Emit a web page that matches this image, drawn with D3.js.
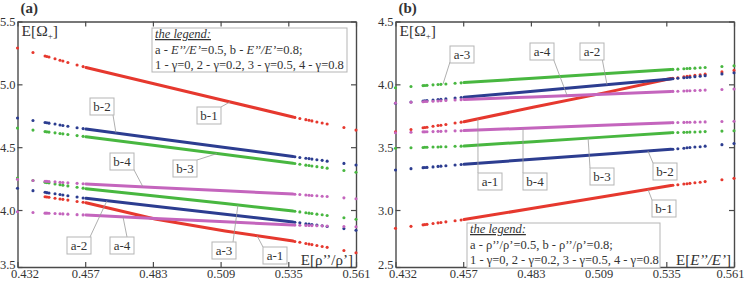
<!DOCTYPE html>
<html>
<head>
<meta charset="utf-8">
<script src="https://cdn.jsdelivr.net/npm/d3@7"></script>
<style>
  body { margin: 0; background: #fff; }
  svg text { font-family: "Liberation Serif", "DejaVu Serif", serif; fill: #333; }
</style>
</head>
<body>
<div id="chart"></div>
<script>
// ---- data ----
const xTickVals   = [0.432, 0.4578, 0.4836, 0.5094, 0.5352, 0.561];
const xTickLabels = ["0.432", "0.457", "0.483", "0.509", "0.535", "0.561"];

const yTickLabelsA = ["3.5", "4.0", "4.5", "5.0", "5.5"];
const yTickLabelsB = ["2.5", "3.0", "3.5", "4.0", "4.5"];

// x positions of the samples: sparse dots on the left, nodes of the dense band, sparse dots on the right
const xLeftDots  = [0.4320, 0.4379, 0.4425, 0.4432, 0.4440, 0.4463, 0.4482, 0.4493, 0.4512, 0.4547, 0.4570];
const xBandNodes = [0.4581, 0.4844, 0.5111, 0.5370];
const xRightDots = [0.5377, 0.5396, 0.5419, 0.5431, 0.5442, 0.5461, 0.5481, 0.5500, 0.5564, 0.5610];
const xAll = xLeftDots.concat(xBandNodes, xRightDots);

// panel (a)
const pa_b1 = [5.289,5.253,5.226,5.222,5.217,5.204,5.192,5.186,5.174,5.154,5.141, 5.134,5.003,4.870,4.740, 4.737,4.728,4.719,4.714,4.709,4.700,4.692,4.684,4.656,4.636];
const pa_b2 = [4.732,4.712,4.696,4.694,4.691,4.684,4.677,4.673,4.667,4.655,4.648, 4.644,4.571,4.498,4.426, 4.424,4.418,4.412,4.409,4.405,4.400,4.395,4.389,4.371,4.358];
const pa_b3 = [4.652,4.636,4.624,4.622,4.620,4.614,4.609,4.606,4.601,4.592,4.586, 4.583,4.513,4.441,4.372, 4.370,4.364,4.357,4.354,4.350,4.345,4.339,4.333,4.314,4.300];
const pa_b4 = [4.244,4.235,4.229,4.228,4.227,4.224,4.221,4.219,4.217,4.212,4.209, 4.207,4.180,4.153,4.127, 4.126,4.123,4.119,4.118,4.116,4.113,4.110,4.107,4.097,4.090];
const pa_a1 = [null,null,4.106,4.104,4.101,4.094,4.088,4.085,4.079,4.068,4.062, 4.058,3.928,3.833,3.753, 3.750,3.743,3.734,3.729,3.725,3.718,3.710,3.703,3.678,3.660];
const pa_a2 = [4.173,4.154,4.141,4.138,4.136,4.129,4.123,4.120,4.114,4.103,4.096, 4.093,4.030,3.967,3.905, 3.903,3.898,3.891,3.888,3.885,3.880,3.875,3.869,3.852,3.839];
const pa_a3 = [4.255,4.235,4.220,4.218,4.216,4.208,4.202,4.198,4.192,4.181,4.174, 4.170,4.111,4.051,3.992, 3.990,3.985,3.978,3.975,3.972,3.967,3.962,3.956,3.939,3.926];
const pa_a4 = [3.986,3.980,3.975,3.975,3.974,3.972,3.970,3.969,3.967,3.963,3.961, 3.960,3.933,3.906,3.880, 3.880,3.879,3.877,3.877,3.876,3.875,3.874,3.873,3.869,3.867];

// panel (b)
const pb_a1 = [3.622,3.641,3.654,3.657,3.659,3.666,3.672,3.675,3.681,3.692,3.699, 3.702,3.817,3.930,4.046, 4.048,4.053,4.059,4.063,4.066,4.071,4.076,4.081,4.099,4.111];
const pb_a2 = [3.849,3.860,3.868,3.870,3.871,3.875,3.879,3.881,3.884,3.891,3.895, 3.897,3.945,3.994,4.042, 4.044,4.048,4.052,4.055,4.057,4.061,4.065,4.069,4.083,4.092];
const pb_a3 = [3.973,3.983,3.990,3.991,3.992,3.996,3.999,4.000,4.003,4.009,4.012, 4.014,4.049,4.084,4.118, 4.119,4.121,4.124,4.126,4.127,4.129,4.132,4.134,4.142,4.148];
const pb_a4 = [3.851,3.857,3.862,3.863,3.864,3.866,3.868,3.870,3.872,3.875,3.878, 3.879,3.900,3.922,3.943, 3.944,3.945,3.947,3.948,3.949,3.951,3.952,3.954,3.959,3.963];
const pb_b1 = [2.854,2.870,2.882,2.884,2.886,2.893,2.898,2.901,2.906,2.915,2.921, 2.924,3.014,3.106,3.195, 3.197,3.201,3.207,3.209,3.212,3.217,3.221,3.226,3.241,3.252];
const pb_b2 = [3.318,3.329,3.337,3.338,3.339,3.343,3.347,3.349,3.352,3.358,3.362, 3.364,3.404,3.444,3.483, 3.484,3.488,3.492,3.495,3.497,3.501,3.504,3.508,3.520,3.529];
const pb_b3 = [3.491,3.495,3.498,3.499,3.499,3.501,3.502,3.503,3.504,3.507,3.508, 3.509,3.544,3.580,3.615, 3.616,3.617,3.618,3.619,3.620,3.621,3.622,3.624,3.628,3.631];
const pb_b4 = [3.615,3.619,3.622,3.622,3.623,3.624,3.626,3.626,3.628,3.630,3.631, 3.632,3.653,3.674,3.695, 3.695,3.696,3.697,3.698,3.698,3.699,3.700,3.701,3.704,3.706];

// callout labels: text, box corner (px), leader start (px), leader target (data)
const calloutsA = [
  { t: "b-2", bx: 90,  by: 98,  sx: 113, sy: 115, tx: 0.4695, tv: 4.615 },
  { t: "b-1", bx: 197, by: 107, sx: 221, sy: 107, tx: 0.5130, tv: 4.860 },
  { t: "b-3", bx: 173, by: 160, sx: 197, sy: 160, tx: 0.5080, tv: 4.449 },
  { t: "b-4", bx: 110, by: 153, sx: 133, sy: 168, tx: 0.4798, tv: 4.185 },
  { t: "a-2", bx: 67,  by: 237, sx: 90,  sy: 237, tx: 0.4661, tv: 4.074 },
  { t: "a-4", bx: 110, by: 237, sx: 127, sy: 237, tx: 0.4722, tv: 3.946 },
  { t: "a-3", bx: 212, by: 242, sx: 233, sy: 242, tx: 0.5160, tv: 4.039 },
  { t: "a-1", bx: 263, by: 247, sx: 263, sy: 247, tx: 0.5233, tv: 3.795 }
];
const calloutsB = [
  { t: "a-3", bx: 450, by: 46,  sx: 450, sy: 62,  tx: 0.4501, tv: 4.002 },
  { t: "a-4", bx: 530, by: 43,  sx: 553, sy: 58,  tx: 0.4974, tv: 3.911 },
  { t: "a-2", bx: 580, by: 43,  sx: 602, sy: 58,  tx: 0.5126, tv: 3.997 },
  { t: "a-1", bx: 478, by: 173, sx: 478, sy: 173, tx: 0.4634, tv: 3.725 },
  { t: "b-4", bx: 523, by: 173, sx: 523, sy: 173, tx: 0.4806, tv: 3.650 },
  { t: "b-3", bx: 590, by: 168, sx: 590, sy: 168, tx: 0.5054, tv: 3.572 },
  { t: "b-2", bx: 653, by: 163, sx: 653, sy: 163, tx: 0.5282, tv: 3.470 },
  { t: "b-1", bx: 652, by: 200, sx: 652, sy: 200, tx: 0.5282, tv: 3.165 }
];

const colors = { "1": "#e6382e", "2": "#2c3d90", "3": "#48b740", "4": "#c465bd" };

// ---- layout ----
const W = 746, H = 286;
const plotTop = 21.5, plotBottom = 267;
const serif = '"Liberation Serif", "DejaVu Serif", serif';

const svg = d3.select("#chart").append("svg")
  .attr("width", W)
  .attr("height", H);

const panels = [
  {
    tag: "(a)", left: 17.5, right: 356,
    yDomain: [3.5466, 5.5], yTicks: [3.5466, 4, 4.5, 5, 5.5], yLabels: yTickLabelsA,
    series: [["a-1", pa_a1], ["a-2", pa_a2], ["a-3", pa_a3], ["a-4", pa_a4],
             ["b-1", pa_b1], ["b-2", pa_b2], ["b-3", pa_b3], ["b-4", pa_b4]],
    callouts: calloutsA,
    legend: { x: 152, y: 28, w: 195, h: 44, sym: "E", italicSym: true },
    xTitle: "rho", lastLabelShift: 0
  },
  {
    tag: "(b)", left: 395.5, right: 734,
    yDomain: [2.5466, 4.5], yTicks: [2.5466, 3, 3.5, 4, 4.5], yLabels: yTickLabelsB,
    series: [["a-1", pb_a1], ["a-2", pb_a2], ["a-3", pb_a3], ["a-4", pb_a4],
             ["b-1", pb_b1], ["b-2", pb_b2], ["b-3", pb_b3], ["b-4", pb_b4]],
    callouts: calloutsB,
    legend: { x: 467, y: 223, w: 193, h: 45, sym: "ρ", italicSym: false },
    xTitle: "E", lastLabelShift: -4
  }
];

panels.forEach(drawPanel);

function drawPanel(p) {
  const x = d3.scaleLinear().domain([0.432, 0.561]).range([p.left, p.right]);
  const y = d3.scaleLinear().domain(p.yDomain).range([plotBottom, plotTop]);
  const g = svg.append("g");
  const axisColor = "#4a4a4a";

  // axes (ticks point inward)
  const top = g.append("g").attr("transform", `translate(0,${plotTop})`)
    .call(d3.axisTop(x).tickValues(xTickVals).tickSize(-5).tickSizeOuter(0).tickFormat(""));
  const bottom = g.append("g").attr("transform", `translate(0,${plotBottom})`)
    .call(d3.axisBottom(x).tickValues(xTickVals).tickSize(-5).tickSizeOuter(0).tickPadding(2.5)
      .tickFormat((d, i) => xTickLabels[i]));
  const left = g.append("g").attr("transform", `translate(${p.left},0)`)
    .call(d3.axisLeft(y).tickValues(p.yTicks).tickSize(-5).tickSizeOuter(0).tickPadding(2)
      .tickFormat((d, i) => p.yLabels[i]));
  const right = g.append("g").attr("transform", `translate(${p.right},0)`)
    .call(d3.axisRight(y).tickValues(p.yTicks).tickSize(-5).tickSizeOuter(0).tickFormat(""));

  [top, bottom, left, right].forEach(a => {
    a.attr("font-family", serif);
    a.select(".domain").attr("stroke", axisColor).attr("stroke-width", 1.4);
    a.selectAll(".tick line").attr("stroke", axisColor).attr("stroke-width", 1.2);
    a.selectAll(".tick text")
      .style("font-family", serif)
      .style("font-size", "12.5px")
      .attr("fill", "#333");
  });

  // corner labels nudged like the original: first x label right, last x label left, lowest y label up
  bottom.selectAll(".tick text")
    .attr("dx", (d, i) => i === 0 ? 7 : (i === xTickVals.length - 1 ? p.lastLabelShift : 0));
  left.selectAll(".tick text")
    .attr("dy", (d, i) => i === 0 ? "0.1em" : "0.32em");

  // series: dense band as a thick line, sparse samples as dots
  const band = d3.line().x(d => x(d.x)).y(d => y(d.v));
  p.series.forEach(([name, vals]) => {
    const col = colors[name.slice(-1)];
    const pts = xAll.map((xv, i) => ({ x: xv, v: vals[i], i: i })).filter(d => d.v != null);
    const nodes = pts.filter(d => d.i >= 11 && d.i < 15);
    const dots = pts.filter(d => d.i < 11 || d.i >= 15);

    g.append("path")
      .datum(nodes)
      .attr("d", band)
      .attr("fill", "none")
      .attr("stroke", col)
      .attr("stroke-width", 3)
      .attr("stroke-linecap", "round");

    g.append("g").selectAll("circle")
      .data(dots)
      .join("circle")
      .attr("cx", d => x(d.x))
      .attr("cy", d => y(d.v))
      .attr("r", 1.55)
      .attr("fill", col);
  });

  // callouts
  p.callouts.forEach(c => {
    g.append("line")
      .attr("x1", c.sx).attr("y1", c.sy)
      .attr("x2", x(c.tx)).attr("y2", y(c.tv))
      .attr("stroke", "#9a9a9a")
      .attr("stroke-width", 0.8);
    g.append("rect")
      .attr("x", c.bx).attr("y", c.by)
      .attr("width", 24).attr("height", 17)
      .attr("fill", "#fff")
      .attr("stroke", "#b5b5b5")
      .attr("stroke-width", 1);
    g.append("text")
      .attr("x", c.bx + 12).attr("y", c.by + 13)
      .attr("text-anchor", "middle")
      .style("font-size", "13px")
      .text(c.t);
  });

  // legend box
  const L = p.legend;
  g.append("rect")
    .attr("x", L.x).attr("y", L.y).attr("width", L.w).attr("height", L.h)
    .attr("fill", "#fff").attr("stroke", "#b5b5b5").attr("stroke-width", 1);

  const lx = L.x + 3;
  g.append("text")
    .attr("x", lx).attr("y", L.y + 10)
    .style("font-size", "12.5px")
    .style("font-style", "italic")
    .style("text-decoration", "underline")
    .text("the legend:");

  const l2 = g.append("text").attr("x", lx).attr("y", L.y + 25.5).style("font-size", "12.5px");
  const symPart = L.sym + "’’/" + L.sym + "’";
  l2.append("tspan").text("a - ");
  l2.append("tspan").style("font-style", L.italicSym ? "italic" : "normal").text(symPart);
  l2.append("tspan").text("=0.5, b - ");
  l2.append("tspan").style("font-style", L.italicSym ? "italic" : "normal").text(symPart);
  l2.append("tspan").text("=0.8;");

  g.append("text")
    .attr("x", lx).attr("y", L.y + 40.5)
    .style("font-size", "12.5px")
    .text("1 - γ=0, 2 - γ=0.2, 3 - γ=0.5, 4 - γ=0.8");

  // y title E[Ω+]
  const yt = g.append("text").attr("x", p.left + 4).attr("y", 36).style("font-size", "15.5px");
  yt.append("tspan").text("E[Ω");
  yt.append("tspan").attr("dy", 3).style("font-size", "9px").text("+");
  yt.append("tspan").attr("dy", -3).text("]");

  // x title, bottom right inside the frame
  const xt = g.append("text")
    .attr("x", p.right - 3).attr("y", 265)
    .attr("text-anchor", "end")
    .style("font-size", "15px");
  if (p.xTitle === "rho") {
    xt.text("E[ρ’’/ρ’]");
  } else {
    xt.append("tspan").text("E[");
    xt.append("tspan").style("font-style", "italic").text("E’’/E’");
    xt.append("tspan").text("]");
  }

  // panel tag
  svg.append("text")
    .attr("x", p.left + 3).attr("y", 13)
    .style("font-size", "15px")
    .style("font-weight", "bold")
    .text(p.tag);
}
</script>
</body>
</html>
